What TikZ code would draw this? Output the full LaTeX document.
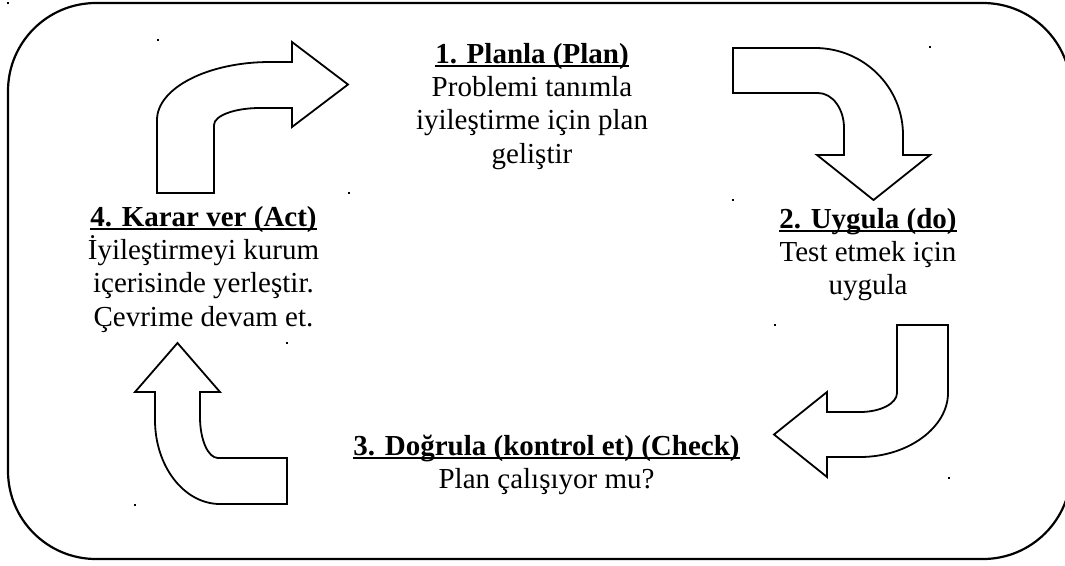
\documentclass[tikz,border=0pt]{standalone}
\usepackage{fontspec}
\setmainfont{Liberation Serif}
\newcommand\headline[1]{\setbox0\hbox{\bfseries #1}\rlap{\rule[-3.6pt]{\wd0}{1.6pt}}\box0}
\begin{document}
\begin{tikzpicture}[x=1pt,y=-1pt,
  frame/.style={line width=2.2pt},
  bentarrow/.style={draw=black,fill=white,line width=1.8pt,line join=miter},
  stepinfo/.style={align=center,anchor=base,inner sep=0pt,
    font=\fontsize{29}{33.4}\selectfont},
  speck/.style={fill=black}]
\useasboundingbox (0,0) rectangle (1065,565);
\clip (0,0) rectangle (1065,565);

% outer rounded frame
\draw[frame,rounded corners=88pt] (8,3) rectangle (1071,559);

% arrow: act -> plan
\draw[bentarrow] (157,193) -- (157,120) .. controls (157,88) and (208,62) .. (270,62)
  -- (292,62) -- (292,42) -- (348,84.5) -- (292,127) -- (292,108) -- (260,108)
  .. controls (234.6,108) and (214,115.6) .. (214,125) -- (214,193) -- cycle;

% arrow: plan -> do
\draw[bentarrow] (733,48) -- (815,48) .. controls (863.6,48) and (903,87) .. (903,135)
  -- (903,155) -- (930,155) -- (873.5,200) -- (817,155) -- (844,155) -- (844,128)
  .. controls (844,108.7) and (832.4,93) .. (818,93) -- (733,93) -- cycle;

% arrow: do -> check
\draw[bentarrow] (897,325) -- (948,325) -- (948,393) .. controls (948,427) and (908.6,457) .. (860,457)
  -- (827,457) -- (827,477) -- (774,434.5) -- (827,392) -- (827,412) -- (860,412)
  .. controls (880.4,412) and (897,403.5) .. (897,393) -- cycle;

% arrow: check -> act
\draw[bentarrow] (287,458) -- (218,458) .. controls (208,458) and (200,439.6) .. (200,417)
  -- (200,392) -- (220,392) -- (177.5,343) -- (135,392) -- (155,392) -- (155,420)
  .. controls (155,466.4) and (184.1,504) .. (220,504) -- (287,504) -- cycle;

% step descriptions (placed by the baseline of their last line)
\node[stepinfo] (plan) at (532,163.2) {\headline{1. Planla (Plan)}\\Problemi tanımla\\iyileştirme için plan\\geliştir};
\node[stepinfo] (do) at (868,294.8) {\headline{2. Uygula (do)}\\Test etmek için\\uygula};
\node[stepinfo] (check) at (546.5,488.4) {\headline{3. Doğrula (kontrol et) (Check)}\\Plan çalışıyor mu?};
\node[stepinfo] (act) at (203.5,326.2) {\headline{4. Karar ver (Act)}\\İyileştirmeyi kurum\\içerisinde yerleştir.\\Çevrime devam et.};

% stray specks
\foreach \p in {(8,3),(158,40),(349,193),(733,200),(930,47),(775,325),(949,478),(287,343),(135,505)}
  \fill[speck] \p ++(-1,-1) rectangle ++(2,2);
\end{tikzpicture}
\end{document}
